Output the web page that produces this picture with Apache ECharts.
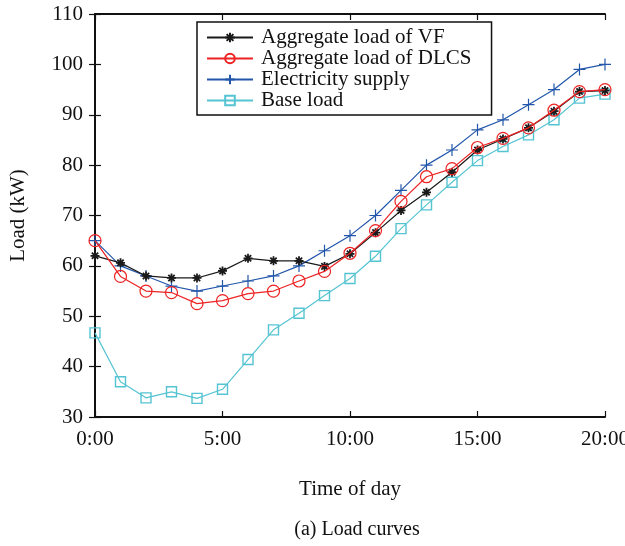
<!DOCTYPE html>
<html>
<head>
<meta charset="utf-8">
<script src="https://cdn.jsdelivr.net/npm/echarts@6/dist/echarts.min.js"></script>
<style>html,body{margin:0;padding:0;background:#fff}#c{width:625px;height:546px}</style>
</head>
<body>
<div id="c"></div>
<script>
var hours = [0,1,2,3,4,5,6,7,8,9,10,11,12,13,14,15,16,17,18,19,20];
var vfLoad = [62, 60.6, 58.0, 57.6, 57.6, 59.0, 61.5, 61.0, 61.0, 59.9, 62.4, 66.6, 71.0, 74.6, 78.6, 83.0, 85.2, 87.4, 90.7, 94.6, 94.8];
var dlcsLoad = [65, 57.9, 55.0, 54.7, 52.5, 53.1, 54.5, 55.0, 57.0, 58.9, 62.5, 67.0, 72.8, 77.7, 79.3, 83.5, 85.3, 87.4, 90.9, 94.6, 95.0];
var supply = [65, 60, 58, 56, 55, 56, 57, 58, 60, 63, 66, 70, 75, 80, 83, 87, 89, 92, 95, 99, 100];
var baseLoad = [46.7, 37.0, 33.8, 35.0, 33.7, 35.5, 41.4, 47.3, 50.6, 54.1, 57.5, 61.9, 67.4, 72.1, 76.6, 80.9, 83.7, 86.0, 89.0, 93.3, 94.1];
var seriesNames = ['Aggregate load of VF', 'Aggregate load of DLCS', 'Electricity supply', 'Base load'];
var xTickLabels = {0:'0:00', 5:'5:00', 10:'10:00', 15:'15:00', 20:'20:00'};

function pairs(vals){ return hours.map(function(h,i){ return [h, vals[i]]; }); }

var FONT = '"Liberation Serif", "DejaVu Serif", serif';
var chart = echarts.init(document.getElementById('c'), null, {renderer:'canvas'});
var axisLine = {show:true, lineStyle:{color:'#111', width:2}};
var tick = {show:true, inside:true, length:6, lineStyle:{color:'#111', width:1.2}};
var option = {
  backgroundColor:'#fff',
  animation:false,
  title:{text:'(a) Load curves', left:352, top:515, textAlign:'center',
    textStyle:{fontFamily:FONT, fontSize:20, fontWeight:'normal', color:'#111'}},
  grid:{left:95, right:20, top:14, bottom:129, outerBoundsMode:'none', containLabel:false},
  legend:{
    orient:'vertical', left:197, top:22, itemGap:0, itemWidth:46, itemHeight:12,
    padding:[5,20,4,9], borderColor:'#111', borderWidth:1.5, backgroundColor:'#fff',
    textStyle:{fontFamily:FONT, fontSize:21, color:'#111', padding:[0,0,0,3]},
    data: seriesNames
  },
  xAxis:[{
    type:'value', min:0, max:20, interval:5,
    name:'Time of day', nameLocation:'middle', nameGap:62,
    nameTextStyle:{fontFamily:FONT, fontSize:21, color:'#111'},
    axisLine:axisLine, axisTick:tick, splitLine:{show:false},
    axisLabel:{fontFamily:FONT, fontSize:21, color:'#111', margin:12,
      formatter:function(v){ return xTickLabels[v] || ''; }}
  },{
    type:'value', min:0, max:20, interval:5, position:'top',
    axisLine:axisLine, axisTick:tick, axisLabel:{show:false}, splitLine:{show:false}
  }],
  yAxis:[{
    type:'value', min:30, max:110, interval:10,
    name:'Load (kW)', nameLocation:'middle', nameGap:66, nameRotate:90,
    nameTextStyle:{fontFamily:FONT, fontSize:21, color:'#111'},
    axisLine:axisLine, axisTick:tick, splitLine:{show:false},
    axisLabel:{fontFamily:FONT, fontSize:21, color:'#111', margin:12}
  },{
    type:'value', min:30, max:110, interval:10, position:'right',
    axisLine:axisLine, axisTick:tick, axisLabel:{show:false}, splitLine:{show:false}
  }],
  series:[
    {name:seriesNames[0], type:'line', data:pairs(vfLoad),
     symbol:'path://M5,0L5,10M0,5L10,5M1.5,1.5L8.5,8.5M8.5,1.5L1.5,8.5', symbolSize:9,
     lineStyle:{color:'#1a1a1a', width:1.2},
     itemStyle:{color:'#1a1a1a', borderColor:'#1a1a1a', borderWidth:1.8}, z:3},
    {name:seriesNames[1], type:'line', data:pairs(dlcsLoad),
     symbol:'circle', symbolSize:12,
     lineStyle:{color:'#ee2222', width:1.2},
     itemStyle:{color:'rgba(255,255,255,0)', borderColor:'#ee2222', borderWidth:1.2}, z:4},
    {name:seriesNames[2], type:'line', data:pairs(supply),
     symbol:'path://M5,0L5,10M0,5L10,5', symbolSize:12,
     lineStyle:{color:'#2256aa', width:1.2},
     itemStyle:{color:'#2256aa', borderColor:'#2256aa', borderWidth:1.2}, z:2},
    {name:seriesNames[3], type:'line', data:pairs(baseLoad),
     symbol:'rect', symbolSize:10,
     lineStyle:{color:'#55c4d2', width:1.2},
     itemStyle:{color:'rgba(255,255,255,0)', borderColor:'#55c4d2', borderWidth:1.4}, z:1}
  ]
};
chart.setOption(option);
</script>
</body>
</html>
